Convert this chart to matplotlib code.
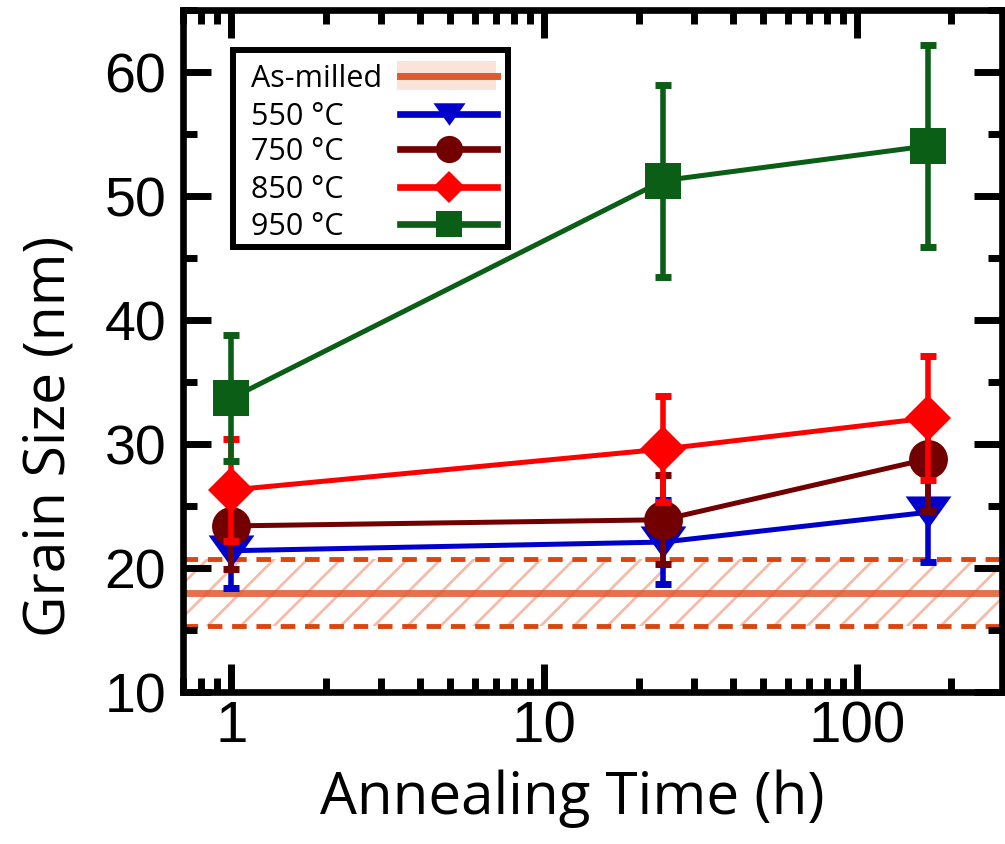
import numpy as np
import matplotlib
matplotlib.use("Agg")
import matplotlib.pyplot as plt
from matplotlib.patches import Rectangle
from matplotlib.path import Path
from matplotlib.ticker import LogLocator, FixedLocator, MultipleLocator, NullFormatter

# data
times = [1, 24, 168]
labels = ["550 °C", "750 °C", "850 °C", "950 °C"]
g550 = [21.4, 22.1, 24.5]
e550 = [3.0, 3.4, 4.0]
g750 = [23.4, 23.9, 28.8]
e750 = [3.5, 3.6, 4.2]
g850 = [26.3, 29.6, 32.1]
e850 = [4.1, 4.3, 5.0]
g950 = [33.7, 51.25, 54.05]
e950 = [5.1, 7.75, 8.15]
as_milled = 18.0
as_milled_err = 2.7

plt.rcParams["hatch.linewidth"] = 2.0

# wide, flat downward triangle
tri = Path([(-1, 0.7), (1, 0.7), (0, -0.7), (-1, 0.7)],
           [Path.MOVETO, Path.LINETO, Path.LINETO, Path.CLOSEPOLY])

series = [
    (g550, e550, "#0000CC", tri, 33),
    (g750, e750, "#730000", "o", 28),
    (g850, e850, "#FF0000", "D", 23),
    (g950, e950, "#0B5E16", "s", 26),
]

fig = plt.figure(figsize=(10.05, 8.44), dpi=100)
ax = fig.add_axes([0.182, 0.180, 0.815, 0.808])

# as-milled band
ax.axhspan(as_milled - as_milled_err, as_milled + as_milled_err, facecolor="none",
           edgecolor="#F6BCA9", hatch="/", linewidth=0, zorder=1)
ax.axhline(as_milled, color="#DE5A30", lw=5, alpha=0.85, zorder=1.5)
for yy in (as_milled - as_milled_err, as_milled + as_milled_err):
    ax.axhline(yy, color="#DC4410", lw=3.5, ls=(0, (3, 2)), zorder=1.5)

for i, (g, e, c, m, ms) in enumerate(series):
    ax.errorbar(times, g, yerr=e, fmt="none", ecolor=c, elinewidth=4, capsize=6,
                capthick=5, zorder=3 + 2 * i)
    ax.plot(times, g, color=c, lw=3.6, marker=m, ms=ms, mew=0, zorder=4 + 2 * i)

ax.set_xscale("log")
ax.set_xlim(0.7, 290)
ax.set_ylim(10, 65)

ax.xaxis.set_major_locator(FixedLocator([1, 10, 100]))
ax.xaxis.set_minor_locator(LogLocator(base=10, subs=np.arange(2, 10)))
ax.xaxis.set_minor_formatter(NullFormatter())
ax.set_xticklabels(["1", "10", "100"])
ax.yaxis.set_major_locator(MultipleLocator(10))
ax.yaxis.set_minor_locator(MultipleLocator(5))

ax.tick_params(which="both", direction="in", top=True, right=True, width=5)
ax.tick_params(which="major", length=20)
ax.tick_params(which="minor", length=10)
ax.tick_params(axis="y", pad=12)
ax.tick_params(axis="x", pad=6)
for lab in ax.get_yticklabels():
    lab.set_family("Liberation Sans")
    lab.set_fontsize(40)
for lab in ax.get_xticklabels():
    lab.set_family("Liberation Sans")
    lab.set_fontsize(42)

for sp in ax.spines.values():
    sp.set_linewidth(4.8)

ax.set_ylabel("Grain Size (nm)", family="Open Sans", fontsize=41)
ax.yaxis.set_label_coords(-0.128, 0.375)
ax.set_xlabel("Annealing Time (h)", family="Open Sans", fontsize=42)
ax.xaxis.set_label_coords(0.475, -0.113)

# legend: text on the left, handles on the right, drawn in axes coordinates
T = ax.transAxes
ax.add_patch(Rectangle((0.061, 0.652), 0.336, 0.289, transform=T, facecolor="white",
                       edgecolor="black", lw=4.3, zorder=20, clip_on=False))
rows = [0.904, 0.848, 0.797, 0.741, 0.687]
hx0, hx1 = 0.265, 0.384
hxm = (hx0 + hx1) / 2
for y, lab in zip(rows, ["As-milled"] + labels):
    ax.text(0.083, y, lab, transform=T, family="Open Sans", fontsize=22,
            va="center_baseline", ha="left", zorder=21)
ax.add_patch(Rectangle((hx0 - 0.004, rows[0] - 0.021), hx1 - hx0 + 0.002, 0.042,
                       transform=T, facecolor="#FBE3DA", edgecolor="none", zorder=21))
ax.plot([hx0, hx1], [rows[0]] * 2, transform=T, color="#DE5A30", lw=5, zorder=22)
for y, (g, e, c, m, ms) in zip(rows[1:], series):
    ax.plot([hx0, hx1], [y, y], transform=T, color=c, lw=4.8, zorder=22)
    ax.plot([hxm], [y], transform=T, color=c, marker=m, ms=ms * 0.7, mew=0, zorder=23)

fig.savefig("out.png", dpi=100)
